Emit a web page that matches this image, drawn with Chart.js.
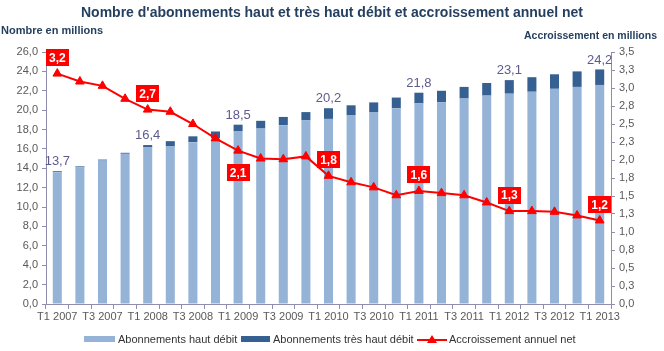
<!DOCTYPE html>
<html lang="fr">
<head>
<meta charset="utf-8">
<script src="https://cdn.jsdelivr.net/npm/chart.js@4.4.0/dist/chart.umd.min.js"></script>
<style>
  body { margin: 0; background: #fff; font-family: "Liberation Sans", Arial, sans-serif; }
  #cadre { position: relative; width: 664px; height: 351px; }
  #graphique { position: absolute; left: 0; top: 0; }
  .txt { position: absolute; white-space: nowrap; }
  #titre { left: 0; top: 4px; width: 664px; text-align: center; font-weight: bold; font-size: 14px; color: #243f60; }
  #titreG { left: 1px; top: 24px; font-weight: bold; font-size: 11px; color: #243f60; }
  #titreD { right: 7px; top: 29px; font-weight: bold; font-size: 10.5px; color: #243f60; }
  .leg { position: absolute; top: 333px; font-size: 11px; color: #333; white-space: nowrap; }
  .leg span.case { display: inline-block; width: 31px; height: 6px; vertical-align: middle; margin-right: 3px; position: relative; top: -1px; }
</style>
</head>
<body>
<div id="cadre">
  <canvas id="graphique" width="664" height="351"></canvas>
  <div class="txt" id="titre">Nombre d'abonnements haut et très haut débit et accroissement annuel net</div>
  <div class="txt" id="titreG">Nombre en millions</div>
  <div class="txt" id="titreD">Accroissement en millions</div>
  <div class="leg" style="left:84px"><span class="case" style="background:#95b3d7"></span>Abonnements haut débit</div>
  <div class="leg" style="left:241px"><span class="case" style="background:#366092;width:29px"></span>Abonnements très haut débit</div>
  <div class="leg" style="left:417px"><svg width="30" height="10" style="vertical-align:middle;position:relative;top:-1px;margin-right:2px"><line x1="0" y1="6" x2="30" y2="6" stroke="#ff0000" stroke-width="2"/><polygon points="15,1 20,9 10,9" fill="#ff0000"/></svg>Accroissement annuel net</div>
</div>

<script>
// Trimestres
const trimestres = ['T1 2007', 'T2 2007', 'T3 2007', 'T4 2007',
  'T1 2008', 'T2 2008', 'T3 2008', 'T4 2008',
  'T1 2009', 'T2 2009', 'T3 2009', 'T4 2009',
  'T1 2010', 'T2 2010', 'T3 2010', 'T4 2010',
  'T1 2011', 'T2 2011', 'T3 2011', 'T4 2011',
  'T1 2012', 'T2 2012', 'T3 2012', 'T4 2012',
  'T1 2013'];

// Abonnements (millions)
const hautDebit = [13.6, 14.1, 14.8, 15.5, 16.15, 16.25, 16.7, 17.1,
  17.8, 18.1, 18.45, 18.95, 19.1, 19.5, 19.8, 20.2,
  20.7, 20.8, 21.2, 21.5, 21.7, 21.9, 22.2, 22.4, 22.6];
const tresHautDebit = [0.1, 0.1, 0.1, 0.1, 0.25, 0.55, 0.6, 0.7,
  0.7, 0.8, 0.85, 0.85, 1.1, 1.0, 1.0, 1.1,
  1.1, 1.2, 1.2, 1.3, 1.4, 1.5, 1.5, 1.6, 1.6];

// Accroissement annuel net (millions)
const accroissement = [3.2, 3.09, 3.03, 2.85, 2.7, 2.67, 2.5, 2.3,
  2.13, 2.02, 2.01, 2.05, 1.78, 1.69, 1.62, 1.51,
  1.57, 1.54, 1.51, 1.41, 1.29, 1.29, 1.28, 1.23, 1.16];

// Points annotés
const indicesTotaux = [0, 4, 8, 12, 16, 20, 24];
const indicesBoites = [0, 4, 8, 12, 16, 20, 24];
const boitesDessous = [8];

const couleurAxe = '#8f8db0';
const couleurTexte = '#595959';

function formatFr(v) {
    return v.toFixed(1).replace('.', ',');
}

// Étiquettes : totaux des barres et boîtes rouges sur la courbe
const etiquettes = {
    id: 'etiquettes',
    afterDatasetsDraw(chart) {
        const ctx = chart.ctx;
        const barresHaut = chart.getDatasetMeta(1);
        const ligne = chart.getDatasetMeta(2);
        ctx.save();
        ctx.font = '13px "Liberation Sans", Arial, sans-serif';
        ctx.fillStyle = '#5d5b8d';
        ctx.textAlign = 'center';
        ctx.textBaseline = 'bottom';
        indicesTotaux.forEach(i => {
            const b = barresHaut.data[i];
            ctx.fillText(formatFr(hautDebit[i] + tresHautDebit[i]), b.x, b.y - 3);
        });

        ctx.font = 'bold 12px "Liberation Sans", Arial, sans-serif';
        ctx.textBaseline = 'middle';
        indicesBoites.forEach(i => {
            const p = ligne.data[i];
            const cy = boitesDessous.includes(i) ? p.y + 22 : p.y - 16;
            ctx.fillStyle = '#ff0000';
            ctx.fillRect(Math.round(p.x - 11.5), Math.round(cy - 8.5), 23, 17);
            ctx.fillStyle = '#ffffff';
            ctx.fillText(formatFr(accroissement[i]), p.x, cy + 1);
        });
        ctx.restore();
    }
};

const ctx = document.getElementById('graphique').getContext('2d');

new Chart(ctx, {
    data: {
        labels: trimestres,
        datasets: [
            {
                type: 'bar',
                label: 'Abonnements haut débit',
                data: hautDebit,
                backgroundColor: '#95b3d7',
                yAxisID: 'y',
                stack: 'abonnements',
                order: 1,
                categoryPercentage: 1,
                barPercentage: 0.4
            },
            {
                type: 'bar',
                label: 'Abonnements très haut débit',
                data: tresHautDebit,
                backgroundColor: '#366092',
                yAxisID: 'y',
                stack: 'abonnements',
                order: 1,
                categoryPercentage: 1,
                barPercentage: 0.4
            },
            {
                type: 'line',
                label: 'Accroissement annuel net',
                data: accroissement,
                yAxisID: 'y1',
                borderColor: '#ff0000',
                backgroundColor: '#ff0000',
                borderWidth: 2,
                pointStyle: 'triangle',
                pointRadius: 5,
                pointBorderWidth: 1,
                tension: 0,
                order: 0
            }
        ]
    },
    options: {
        responsive: false,
        animation: false,
        layout: { padding: { top: 52, left: 0, right: 0, bottom: 0 } },
        plugins: {
            legend: { display: false },
            title: { display: false },
            tooltip: { enabled: false }
        },
        scales: {
            x: {
                stacked: true,
                offset: true,
                grid: { offset: true, drawOnChartArea: false, color: couleurAxe, tickLength: 5 },
                border: { color: couleurAxe },
                ticks: {
                    autoSkip: false,
                    maxRotation: 0,
                    padding: 1,
                    color: couleurTexte,
                    font: { family: '"Liberation Sans", Arial, sans-serif', size: 11 },
                    callback: function (value, index) {
                        return index % 2 === 0 ? this.getLabelForValue(value) : '';
                    }
                },
                afterFit: scale => { scale.height = 47; }
            },
            y: {
                position: 'left',
                stacked: true,
                min: 0,
                max: 26,
                ticks: {
                    stepSize: 2,
                    padding: 4,
                    color: couleurTexte,
                    font: { family: '"Liberation Sans", Arial, sans-serif', size: 11 },
                    callback: v => formatFr(v)
                },
                grid: { drawOnChartArea: false, color: couleurAxe, tickLength: 4 },
                border: { color: couleurAxe },
                afterFit: scale => { scale.width = 46; }
            },
            y1: {
                position: 'right',
                min: 0,
                max: 3.5,
                ticks: {
                    stepSize: 0.25,
                    padding: 4,
                    color: couleurTexte,
                    font: { family: '"Liberation Sans", Arial, sans-serif', size: 11 },
                    callback: v => formatFr(v)
                },
                grid: { drawOnChartArea: false, color: couleurAxe, tickLength: 4 },
                border: { color: couleurAxe },
                afterFit: scale => { scale.width = 53; }
            }
        }
    },
    plugins: [etiquettes]
});
</script>
</body>
</html>
